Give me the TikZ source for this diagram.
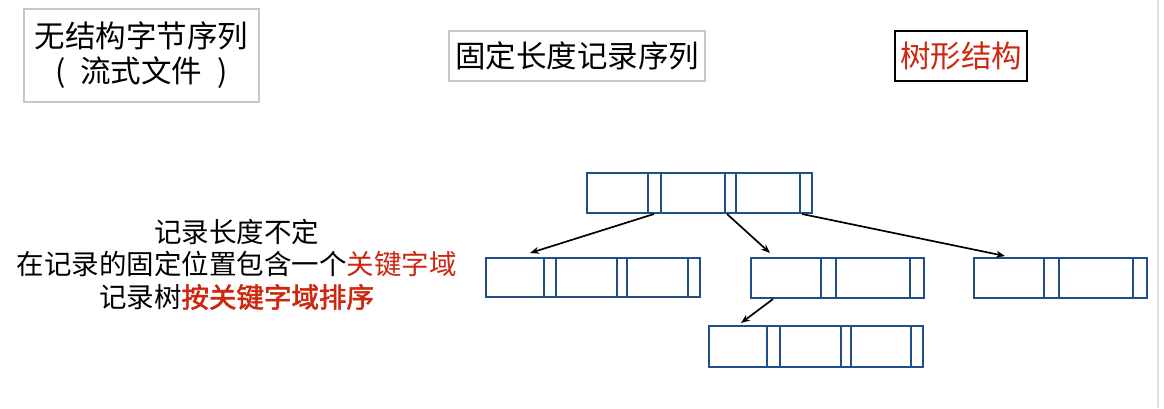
\documentclass[tikz,border=0pt]{standalone}
\usepackage{fontspec}
\setmainfont{Noto Sans CJK SC}
\usetikzlibrary{arrows.meta,calc}
\definecolor{recblue}{RGB}{31,78,137}
\definecolor{keyred}{RGB}{204,40,16}
\definecolor{boxgray}{RGB}{200,200,200}
\definecolor{edgegray}{RGB}{224,224,224}
\tikzset{
  graybox/.style={draw=boxgray,line width=2pt,inner sep=0pt,align=center},
  blackbox/.style={draw=black,line width=2.5pt,inner sep=0pt,align=center},
  rec/.style={draw=recblue,line width=2pt,inner sep=0pt,minimum height=40pt},
  div/.style={draw=recblue,line width=2pt},
  arr/.style={draw=black,line width=1.7pt,-{Stealth[length=9pt,width=7pt]}},
  bigtxt/.style={font=\fontsize{30.5}{35}\selectfont},
  desctxt/.style={font=\fontsize{27.5}{32.5}\selectfont,align=center,inner sep=0pt}
}
\begin{document}
\begin{tikzpicture}[x=1pt,y=-1pt]
\useasboundingbox (0,0) rectangle (1164,408);
\draw[edgegray,line width=2.5pt] (1158,0) -- (1158,408);

\node[graybox,bigtxt,minimum width=235pt,minimum height=93pt] (b1) at (141.5,55.5)
  {无结构字节序列\\(\hspace{15pt}流式文件\hspace{15pt})};
\node[graybox,bigtxt,minimum width=256pt,minimum height=50pt] (b2) at (577,56)
  {固定长度记录序列};
\node[blackbox,bigtxt,minimum width=132pt,minimum height=50pt,text=keyred] (b3) at (961,56)
  {树形结构};

\node[desctxt] (desc) at (236.5,264.5)
  {记录长度不定\\在记录的固定位置包含一个\textcolor{keyred}{关键字域}\\记录树\textcolor{keyred}{\addfontfeatures{FakeBold=2}按关键字域排序}};

% records
\node[rec,minimum width=225pt] (top) at (699.5,193) {};
\foreach \o in {62,75,139,150,214}
  \draw[div] ($(top.south west)+(\o,0)$) -- ($(top.north west)+(\o,0)$);

\node[rec,minimum width=214pt,minimum height=39pt] (bl) at (593,277.5) {};
\foreach \o in {59,71,132,142,203}
  \draw[div] ($(bl.south west)+(\o,0)$) -- ($(bl.north west)+(\o,0)$);

\node[rec,minimum width=173pt] (mid) at (837.5,278) {};
\foreach \o in {71,86,160}
  \draw[div] ($(mid.south west)+(\o,0)$) -- ($(mid.north west)+(\o,0)$);

\node[rec,minimum width=173pt] (rt) at (1060.5,278) {};
\foreach \o in {71,86,160}
  \draw[div] ($(rt.south west)+(\o,0)$) -- ($(rt.north west)+(\o,0)$);

\node[rec,minimum width=214pt,minimum height=41pt] (bot) at (816,346.5) {};
\foreach \o in {59,72,133,143,203}
  \draw[div] ($(bot.south west)+(\o,0)$) -- ($(bot.north west)+(\o,0)$);

% arrows
\draw[arr] ($(top.south west)+(68,0)$) -- ($(bl.north west)+(45,-4)$);
\draw[arr] ($(top.south west)+(141,0)$) -- ($(mid.north west)+(20,-4)$);
\draw[arr] ($(top.south west)+(216,0)$) -- ($(rt.north west)+(32,-1)$);
\draw[arr] ($(mid.south west)+(23,0)$) -- ($(bot.north west)+(33,-2)$);
\end{tikzpicture}
\end{document}
